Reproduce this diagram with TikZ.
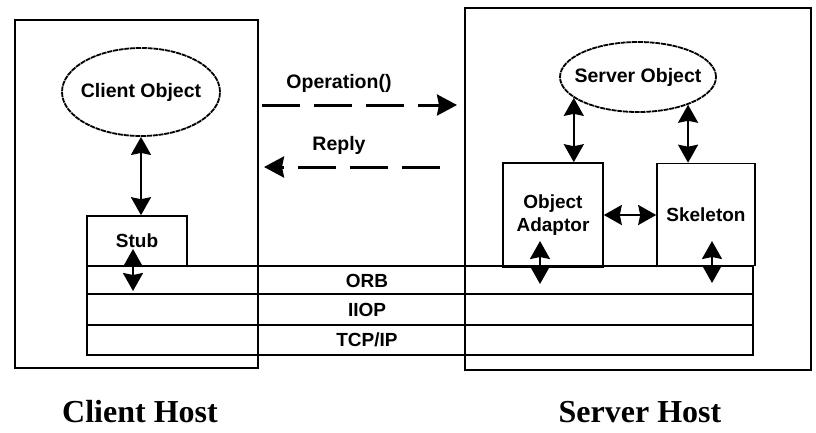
\documentclass[tikz,border=0pt]{standalone}
\usepackage{fontspec}
\setmainfont{Liberation Sans}
\newfontfamily\hostfont{Liberation Serif}
\usetikzlibrary{arrows.meta,shapes.geometric}

\tikzset{
  frame/.style={draw, line width=1.6pt, inner sep=0pt},
  objnode/.style={ellipse, draw, line width=1.8pt, dash pattern=on 5pt off 0.8pt,
    inner sep=0pt},
  objtext/.style={font=\fontsize{19.5}{21}\selectfont\bfseries},
  compbox/.style={draw, line width=1.6pt, inner sep=0pt,
    font=\fontsize{19}{23}\selectfont\bfseries, align=center},
  layertext/.style={font=\fontsize{19}{20}\selectfont\bfseries},
  msgtext/.style={font=\fontsize{19.5}{21}\selectfont\bfseries},
  hosttext/.style={font=\hostfont\fontsize{32}{34}\selectfont\bfseries},
  bighead/.tip={Stealth[length=18pt,width=20pt,inset=2pt]},
  biarrow/.style={line width=2.2pt, {bighead}-{bighead}},
  msgarrow/.style={line width=3pt, dash pattern=on 38pt off 14pt,
    -{Stealth[length=20pt,width=21pt,inset=2pt]}}
}

\begin{document}
\begin{tikzpicture}[x=1pt,y=-1pt]
\useasboundingbox (0,0) rectangle (816,432);

% host frames
\node[frame, minimum width=243pt, minimum height=348pt] (clihost) at (136.5,194) {};
\node[frame, minimum width=346pt, minimum height=362pt] (srvhost) at (638,189) {};

% protocol layers
\draw[line width=1.6pt] (87,266) rectangle (753,355);
\draw[line width=1.6pt] (87,294) -- (753,294);
\draw[line width=1.6pt] (87,325) -- (753,325);
\node[layertext] (orb)  at (367,281) {ORB};
\node[layertext] (iiop) at (367,310) {IIOP};
\node[layertext] (tcp)  at (367,340) {TCP/IP};

% objects (outline and caption kept apart so the ellipse keeps its size)
\node[objnode, minimum width=158pt, minimum height=88pt] (cliobj) at (141,92) {};
\node[objtext] (cliobjtxt) at (cliobj.center) {Client Object};
\node[objnode, minimum width=156pt, minimum height=70pt] (srvobj) at (638,77) {};
\node[objtext] (srvobjtxt) at (srvobj.center) {Server Object};

% components
\node[compbox, minimum width=100pt, minimum height=50pt] (stub) at (137,241) {Stub};
\node[compbox, minimum width=100pt, minimum height=104pt] (oa) at (553,215) {Object\\Adaptor};
\node[compbox, minimum width=98pt, minimum height=102pt] (skel) at (706,214.5) {Skeleton};

% object to component links
\draw[biarrow] (cliobj.south) -- (cliobj.south |- stub.north);
\draw[biarrow] (srvobj.198) -- (srvobj.198 |- oa.north);
\draw[biarrow] (srvobj.331) -- (srvobj.331 |- skel.north);
\draw[biarrow] (oa.east) -- (oa.east -| skel.west);

% links into the ORB
\coordinate (stubup) at (133,249);
\coordinate (stubdn) at (133,291);
\coordinate (oaup) at (540,241);
\coordinate (oadn) at (540,284);
\coordinate (skup) at (712,241);
\coordinate (skdn) at (712,283);
\draw[biarrow] (stubup) -- (stubdn);
\draw[biarrow] (oaup) -- (oadn);
\draw[biarrow] (skup) -- (skdn);

% request / reply messages
\coordinate (opstart) at (262,105);
\coordinate (opend) at (457,105);
\coordinate (rpstart) at (440,167);
\coordinate (rpend) at (264,167);
\draw[msgarrow] (opstart) -- (opend);
\draw[msgarrow] (rpstart) -- (rpend);
\node[msgtext] (oplbl) at (339,83) {Operation()};
\node[msgtext] (rplbl) at (339,145) {Reply};

% host captions
\node[hosttext] (clicap) at (140,412) {Client Host};
\node[hosttext] (srvcap) at (640,412) {Server Host};
\end{tikzpicture}
\end{document}
